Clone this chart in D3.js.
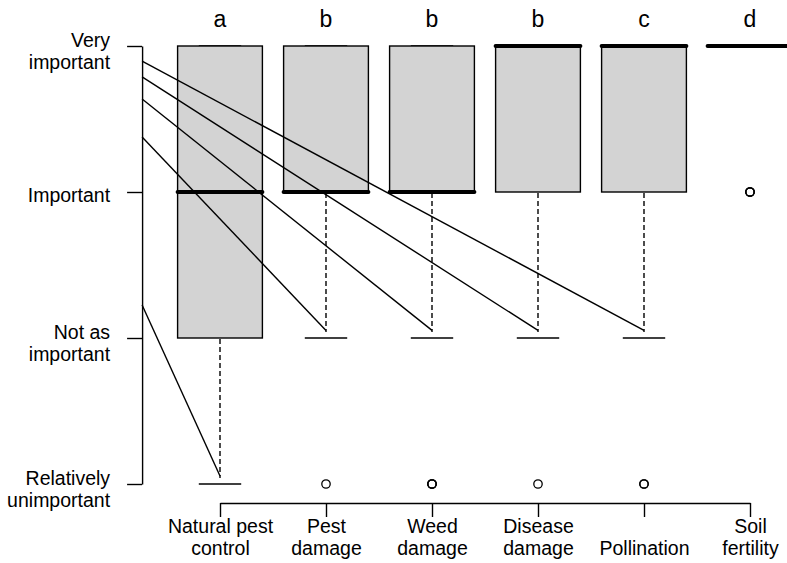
<!DOCTYPE html>
<html>
<head>
<meta charset="utf-8">
<script src="https://cdn.jsdelivr.net/npm/d3@7"></script>
<style>
  body { margin: 0; background: #fff; }
  text { font-family: "Liberation Sans", Arial, sans-serif; fill: #000; }
</style>
</head>
<body>
<div id="chart"></div>
<script>
// Data
const categories = ['Natural pest\ncontrol', 'Pest\ndamage', 'Weed\ndamage', 'Disease\ndamage', '\nPollination', 'Soil\nfertility'];
const groupLetters = ['a', 'b', 'b', 'b', 'c', 'd'];
const lowerWhisker = [1, 2, 2, 2, 2, 4];
const q1 = [2, 3, 3, 3, 3, 4];
const median = [3, 3, 3, 4, 4, 4];
const q3 = [4, 4, 4, 4, 4, 4];
const upperWhisker = [4, 4, 4, 4, 4, 4];
const outliers = [[], [1], [1, 1, 1], [1], [1, 1], [3, 3, 3]];
const levels = [4, 3, 2, 1];
const levelLabels = ['Very\nimportant', 'Important', 'Not as\nimportant', 'Relatively\nunimportant'];
// stray connector lines from the y axis to the lower whisker tips
const connectorStart = [2.226, 3.377, 3.637, 3.788, 3.897];
const connectorEnd = [1.055, 2.052, 2.052, 2.052, 2.052];

const width = 787, height = 563;

const svg = d3.select('#chart')
    .append('svg')
    .attr('width', width)
    .attr('height', height);

// Scales (R style: usr extends 4% past xlim / ylim)
const xScale = d3.scaleLinear().domain([1, 6]).range([220, 750]);
const yScale = d3.scaleLinear().domain([1, 4]).range([484, 46]);
const xLeft = xScale(0.265);
const yBottom = yScale(0.87);
const boxHalf = (xScale(2) - xScale(1)) * 0.4;
const lw = 1.4;

const idx = d3.range(categories.length);

const boxes = svg.append('g')
    .selectAll('g')
    .data(idx)
    .join('g');

// Whiskers
boxes.filter(i => lowerWhisker[i] < q1[i])
    .append('line')
    .attr('x1', i => xScale(i + 1))
    .attr('x2', i => xScale(i + 1))
    .attr('y1', i => yScale(q1[i]) + 1)
    .attr('y2', i => yScale(lowerWhisker[i]) - 6)
    .attr('stroke', '#000')
    .attr('stroke-width', lw)
    .attr('stroke-dasharray', '5,3');

// Staples
boxes.append('line')
    .attr('x1', i => xScale(i + 1) - boxHalf / 2)
    .attr('x2', i => xScale(i + 1) + boxHalf / 2)
    .attr('y1', i => yScale(lowerWhisker[i]))
    .attr('y2', i => yScale(lowerWhisker[i]))
    .attr('stroke', '#000')
    .attr('stroke-width', lw);

boxes.append('line')
    .attr('x1', i => xScale(i + 1) - boxHalf / 2)
    .attr('x2', i => xScale(i + 1) + boxHalf / 2)
    .attr('y1', i => yScale(upperWhisker[i]))
    .attr('y2', i => yScale(upperWhisker[i]))
    .attr('stroke', '#000')
    .attr('stroke-width', lw);

// Boxes
boxes.append('rect')
    .attr('x', i => xScale(i + 1) - boxHalf)
    .attr('width', boxHalf * 2)
    .attr('y', i => yScale(q3[i]))
    .attr('height', i => yScale(q1[i]) - yScale(q3[i]))
    .attr('fill', '#d3d3d3')
    .attr('stroke', '#000')
    .attr('stroke-width', lw);

// Medians
boxes.append('line')
    .attr('x1', i => xScale(i + 1) - boxHalf)
    .attr('x2', i => xScale(i + 1) + boxHalf)
    .attr('y1', i => yScale(median[i]))
    .attr('y2', i => yScale(median[i]))
    .attr('stroke', '#000')
    .attr('stroke-width', 4)
    .attr('stroke-linecap', 'round');

// Outliers
boxes.selectAll('circle')
    .data(i => outliers[i].map(v => ({ i, v })))
    .join('circle')
    .attr('cx', d => xScale(d.i + 1))
    .attr('cy', d => yScale(d.v))
    .attr('r', 4.2)
    .attr('fill', 'none')
    .attr('stroke', '#000')
    .attr('stroke-width', 1.3);

// Connector lines (drawn over the boxes)
svg.append('g')
    .selectAll('line')
    .data(connectorStart)
    .join('line')
    .attr('x1', xLeft)
    .attr('y1', d => yScale(d))
    .attr('x2', (d, i) => xScale(i + 1))
    .attr('y2', (d, i) => yScale(connectorEnd[i]))
    .attr('stroke', '#000')
    .attr('stroke-width', lw);

// Group letters
svg.append('g')
    .selectAll('text')
    .data(groupLetters)
    .join('text')
    .attr('x', (d, i) => xScale(i + 1))
    .attr('y', 27)
    .attr('text-anchor', 'middle')
    .attr('font-size', '23px')
    .text(d => d);

// Axes
const xAxis = d3.axisBottom(xScale)
    .tickValues(d3.range(1, 7))
    .tickFormat(d => categories[d - 1])
    .tickSizeInner(14)
    .tickSizeOuter(0);

const xAxisDraw = svg.append('g')
    .attr('transform', `translate(0,${yBottom})`)
    .call(xAxis);

const yAxis = d3.axisLeft(yScale)
    .tickValues(levels)
    .tickFormat((d, i) => levelLabels[i])
    .tickSizeInner(15)
    .tickSizeOuter(0);

const yAxisDraw = svg.append('g')
    .attr('transform', `translate(${xLeft},0)`)
    .call(yAxis);

[xAxisDraw, yAxisDraw].forEach(g => {
    g.select('.domain').attr('stroke', '#000').attr('stroke-width', lw);
    g.selectAll('.tick line').attr('stroke', '#000').attr('stroke-width', lw);
});

xAxisDraw.selectAll('.tick text')
    .attr('font-size', '19.5px')
    .attr('font-family', '"Liberation Sans", Arial, sans-serif')
    .attr('fill', '#000')
    .each(function (d) {
        const lines = categories[d - 1].split('\n');
        const t = d3.select(this).text(null).attr('dy', null).attr('y', null);
        lines.forEach((ln, k) => {
            t.append('tspan').attr('x', 0).attr('y', 30 + k * 22).text(ln);
        });
    });

yAxisDraw.selectAll('.tick text')
    .attr('font-size', '19.5px')
    .attr('font-family', '"Liberation Sans", Arial, sans-serif')
    .attr('fill', '#000')
    .each(function (d, i) {
        const lines = levelLabels[i].split('\n');
        const t = d3.select(this).text(null).attr('dy', null);
        const y0 = lines.length === 1 ? 9 : 0;
        lines.forEach((ln, k) => {
            t.append('tspan').attr('x', -32).attr('y', y0 + k * 22).text(ln);
        });
    });
</script>
</body>
</html>
